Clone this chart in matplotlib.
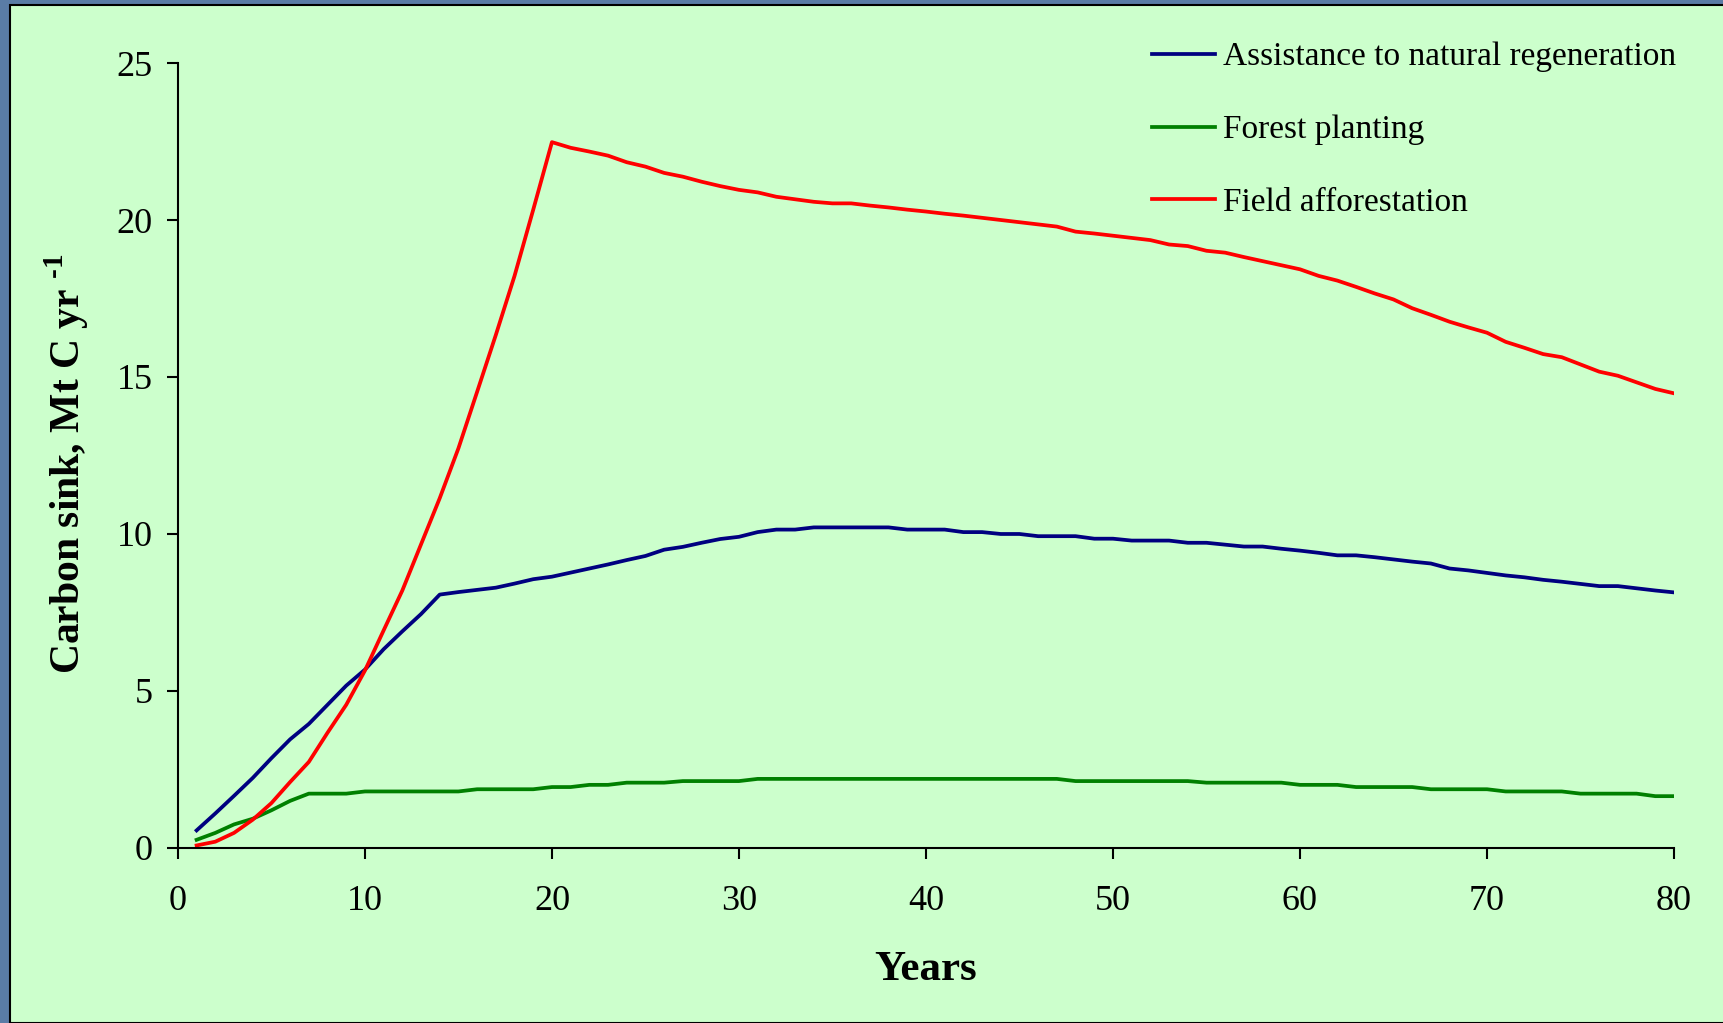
import numpy as np
import matplotlib
matplotlib.use("Agg")
import matplotlib.pyplot as plt
from matplotlib.patches import Rectangle

# data (yearly values, Mt C per year)
years = np.arange(1, 81)

natural_regen = [0.56, 1.1, 1.66, 2.23, 2.86, 3.46, 3.95, 4.56, 5.17, 5.68,
                 6.33, 6.9, 7.45, 8.07, 8.15, 8.22, 8.29, 8.42, 8.56, 8.64,
                 8.77, 8.9, 9.03, 9.17, 9.3, 9.5, 9.59, 9.72, 9.84, 9.91,
                 10.06, 10.14, 10.14, 10.21, 10.21, 10.21, 10.21, 10.21, 10.14, 10.14,
                 10.14, 10.06, 10.06, 10.0, 10.0, 9.93, 9.93, 9.93, 9.85, 9.85,
                 9.79, 9.79, 9.79, 9.72, 9.72, 9.66, 9.6, 9.6, 9.53, 9.47,
                 9.4, 9.32, 9.32, 9.26, 9.19, 9.12, 9.06, 8.9, 8.84, 8.76,
                 8.68, 8.62, 8.54, 8.48, 8.41, 8.34, 8.34, 8.27, 8.2, 8.14]

forest_planting = [0.26, 0.48, 0.75, 0.93, 1.2, 1.5, 1.73, 1.73, 1.73, 1.8,
                   1.8, 1.8, 1.8, 1.8, 1.8, 1.87, 1.87, 1.87, 1.87, 1.94,
                   1.94, 2.01, 2.01, 2.08, 2.08, 2.08, 2.13, 2.13, 2.13, 2.13,
                   2.2, 2.2, 2.2, 2.2, 2.2, 2.2, 2.2, 2.2, 2.2, 2.2,
                   2.2, 2.2, 2.2, 2.2, 2.2, 2.2, 2.2, 2.13, 2.13, 2.13,
                   2.13, 2.13, 2.13, 2.13, 2.08, 2.08, 2.08, 2.08, 2.08, 2.01,
                   2.01, 2.01, 1.94, 1.94, 1.94, 1.94, 1.87, 1.87, 1.87, 1.87,
                   1.8, 1.8, 1.8, 1.8, 1.73, 1.73, 1.73, 1.73, 1.65, 1.65]

field_afforest = [0.08, 0.2, 0.48, 0.9, 1.43, 2.1, 2.74, 3.67, 4.56, 5.65,
                  6.93, 8.2, 9.67, 11.14, 12.73, 14.53, 16.34, 18.22, 20.33, 22.48,
                  22.3, 22.18, 22.05, 21.84, 21.7, 21.5, 21.38, 21.22, 21.08, 20.96,
                  20.88, 20.74, 20.66, 20.58, 20.53, 20.53, 20.46, 20.4, 20.33, 20.27,
                  20.2, 20.14, 20.07, 20.0, 19.93, 19.86, 19.79, 19.63, 19.57, 19.5,
                  19.43, 19.36, 19.22, 19.17, 19.02, 18.96, 18.82, 18.69, 18.56, 18.43,
                  18.22, 18.07, 17.87, 17.66, 17.47, 17.19, 16.98, 16.76, 16.58, 16.41,
                  16.12, 15.93, 15.73, 15.63, 15.4, 15.17, 15.04, 14.83, 14.62, 14.48]

labels = ["Assistance to natural regeneration", "Forest planting", "Field afforestation"]
colors = ["#000080", "#008000", "#ff0000"]

plt.rcParams['font.family'] = ['Liberation Serif', 'DejaVu Serif']
plt.rcParams['mathtext.fontset'] = 'custom'
# mathtext only used for the bold superscript of the y label
plt.rcParams['mathtext.rm'] = 'Liberation Serif:bold'
plt.rcParams['mathtext.bf'] = 'Liberation Serif:bold'

fig = plt.figure(figsize=(17.24, 10.23), dpi=100, facecolor="#5a7ca6")
# light green slide panel with black edge, behind everything
fig.patches.append(Rectangle((10 / 1724, 0), 1.0, 1 - 5 / 1023, transform=fig.transFigure,
                             facecolor="#ccffcc", edgecolor="black", linewidth=1.5, zorder=-10))

ax = fig.add_axes([0.1032, 0.1711, 0.8678, 0.7673])
ax.set_zorder(5)
ax.patch.set_visible(False)

for vals, lab, col in zip([natural_regen, forest_planting, field_afforest], labels, colors):
    ax.plot(years, vals, color=col, lw=2.7, label=lab)

ax.set_xlim(0, 80)
ax.set_ylim(0, 25)
ax.set_xticks(np.arange(0, 81, 10))
ax.set_yticks(np.arange(0, 26, 5))
ax.spines['top'].set_visible(False)
ax.spines['right'].set_visible(False)
ax.spines['left'].set_linewidth(1.5)
ax.spines['bottom'].set_linewidth(1.5)
ax.tick_params(axis='both', direction='out', length=8, width=1.5, labelsize=26)
ax.tick_params(axis='x', pad=19)
ax.tick_params(axis='y', pad=10)

ax.set_xlabel("Years", fontsize=31, fontweight='bold', va='center')
ax.xaxis.set_label_coords(0.5, -0.155)
ax.set_ylabel(r"Carbon sink, Mt C yr $^{\text{-1}}$", fontsize=30, fontweight='bold', va='center')
ax.yaxis.set_label_coords(-0.0745, 0.489)

ax.legend(loc='upper left', bbox_to_anchor=(0.668, 0.959), bbox_transform=fig.transFigure,
          frameon=False, fontsize=24, handlelength=1.9, handletextpad=0.25,
          labelspacing=1.27, borderpad=0, borderaxespad=0)

fig.savefig("out.png", dpi=100, facecolor=fig.get_facecolor())
